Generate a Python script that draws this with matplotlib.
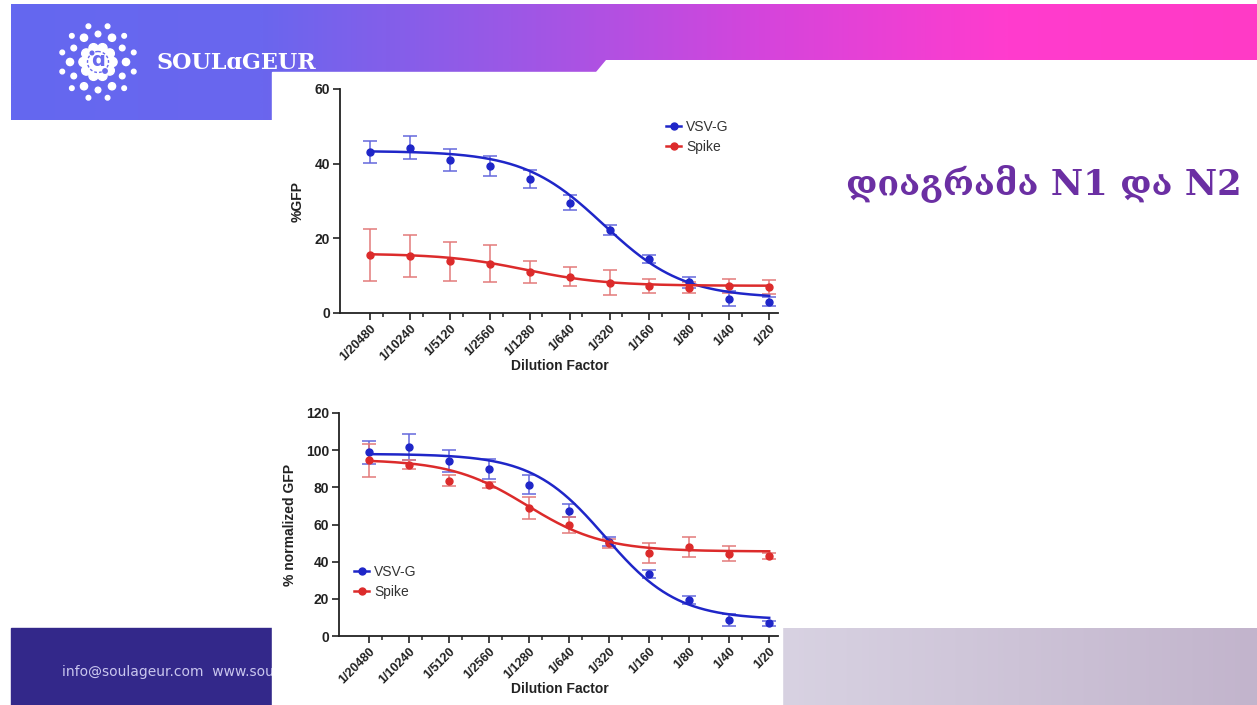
import numpy as np
import matplotlib
matplotlib.use('Agg')
import matplotlib.pyplot as plt
from matplotlib.colors import LinearSegmentedColormap
from matplotlib.patches import Polygon, Rectangle, Circle
from matplotlib.lines import Line2D

W, H = 1257, 705

DILUTIONS = ['1/20480', '1/10240', '1/5120', '1/2560', '1/1280', '1/640',
             '1/320', '1/160', '1/80', '1/40', '1/20']
SERIES = ['VSV-G', 'Spike']

# chart N1: %GFP
GFP_VSVG = [43.2, 44.3, 41.0, 39.3, 35.8, 29.5, 22.2, 14.4, 8.2, 3.8, 3.0]
GFP_VSVG_ERR = [3.0, 3.0, 2.9, 2.7, 2.4, 2.0, 1.4, 1.1, 1.5, 2.0, 1.2]
GFP_SPIKE = [15.6, 15.2, 13.9, 13.2, 11.0, 9.7, 8.1, 7.2, 6.8, 7.2, 7.0]
GFP_SPIKE_ERR = [6.9, 5.6, 5.2, 5.0, 3.0, 2.6, 3.4, 1.8, 1.5, 1.9, 1.9]
# fitted dose-response curves: top, bottom, midpoint (dilution index), slope
GFP_VSVG_FIT = [43.4, 4.0, 5.85, 1.0]
GFP_SPIKE_FIT = [15.9, 7.3, 3.9, 1.0]

# chart N2: % normalized GFP
NORM_VSVG = [98.8, 101.5, 94.0, 89.8, 81.4, 67.4, 50.8, 33.4, 19.4, 8.6, 6.8]
NORM_VSVG_ERR = [6.0, 7.0, 6.0, 5.4, 5.0, 3.5, 2.5, 2.0, 2.0, 3.0, 1.4]
NORM_SPIKE = [94.5, 92.2, 83.5, 81.4, 68.8, 59.8, 49.9, 44.9, 48.1, 44.2, 43.1]
NORM_SPIKE_ERR = [9.0, 2.5, 3.0, 1.6, 6.0, 4.5, 2.3, 5.4, 5.4, 4.0, 1.8]
NORM_VSVG_FIT = [98.0, 8.8, 5.9, 1.1]
NORM_SPIKE_FIT = [95.0, 45.5, 3.95, 1.05]

TITLE = 'დიაგრამა N1 და N2'

BLUE, BLUE_ERR = '#1f26c8', '#6468dc'
RED, RED_ERR = '#dc2b2b', '#e37a7a'
FONT = 'Liberation Sans'


def dose_response(x, top, bottom, mid, slope):
    return bottom + (top - bottom) / (1 + np.exp(slope * (x - mid)))


def px_box(left, top, right, bottom):
    """pixel box -> figure fraction [l, b, w, h]"""
    return [left / W, 1 - bottom / H, (right - left) / W, (bottom - top) / H]


def draw_background(fig):
    ax = fig.add_axes([0, 0, 1, 1])
    ax.set_xlim(0, W)
    ax.set_ylim(H, 0)
    ax.axis('off')

    # top band with gradient
    cmap = LinearSegmentedColormap.from_list(
        'band', ['#6468f0', '#6a66ee', '#9b58e6', '#d445dc', '#ff3cce', '#ff3ac6'])
    grad = np.linspace(0, 1, 512).reshape(1, -1)
    img = ax.imshow(grad, cmap=cmap, extent=(11, W, 120, 4), aspect='auto', zorder=1)
    band = Polygon([(11, 4), (W, 4), (W, 60), (606, 60), (596, 72), (272, 72),
                    (272, 120), (11, 120)], closed=True, transform=ax.transData)
    img.set_clip_path(band)

    # footer blocks
    ax.add_patch(Rectangle((11, 628), 261, 77, color='#33288a', zorder=1))
    ax.imshow(grad, cmap=LinearSegmentedColormap.from_list(
        'foot', ['#d8d2e2', '#c2b4cc']), extent=(782, W, 705, 628), aspect='auto', zorder=1)
    ax.text(62, 672, 'info@soulageur.com  www.soulageur.com', color='#c9c6ee',
            fontsize=10, family='DejaVu Sans', va='center', zorder=2)

    # logo
    cx, cy = 98, 62
    for ang, s in zip(np.linspace(0, 2 * np.pi, 12, endpoint=False), [3.6, 2.8] * 6):
        ax.add_patch(Circle((cx + 28 * np.cos(ang), cy + 28 * np.sin(ang)), s,
                            color='white', zorder=3))
    for ang in np.linspace(np.pi / 12, 2 * np.pi + np.pi / 12, 12, endpoint=False):
        ax.add_patch(Circle((cx + 37 * np.cos(ang), cy + 37 * np.sin(ang)), 2.3,
                            color='white', zorder=3))
    ax.add_patch(Circle((cx, cy), 15, color='white', zorder=3))
    for ang in np.linspace(0, 2 * np.pi, 10, endpoint=False):
        ax.add_patch(Circle((cx + 14.5 * np.cos(ang), cy + 14.5 * np.sin(ang)), 4.6,
                            color='white', zorder=3))
    ax.add_patch(Circle((cx, cy), 10.5, fill=False, ec='#6a6aee', lw=1, ls=(0, (2, 1.5)), zorder=4))
    ax.text(cx, cy - 1, 'ɑ', color='#6a6aee', fontsize=14, fontweight='bold',
            ha='center', va='center', family='DejaVu Sans', zorder=4)
    ax.add_patch(Circle((cx + 7, cy + 9), 2.2, color='#6a6aee', zorder=4))
    ax.add_patch(Circle((cx - 6, cy - 9), 1.8, color='#6a6aee', zorder=4))
    ax.text(157, 63, 'SOULɑGEUR', color='white', fontsize=16, fontweight='bold',
            family='DejaVu Serif', va='center', ha='left', zorder=3)

    # pasted chart picture area
    ax.add_patch(Rectangle((272, 72), 510, 633, color='white', zorder=5))

    ax.text(1044, 183, TITLE, color='#6b2fa3', fontsize=25.5, fontweight='bold',
            family=['DejaVu Serif', 'DejaVu Sans'], ha='center', va='center', zorder=6)


def draw_chart(ax, vsvg, vsvg_err, spike, spike_err, vsvg_fit, spike_fit,
               ymax, ystep, ylabel, ylab_x, legend_anchor):
    x = np.arange(len(DILUTIONS))
    xs = np.linspace(0, len(DILUTIONS) - 1, 400)
    for vals, err, fit, c, ce in [(vsvg, vsvg_err, vsvg_fit, BLUE, BLUE_ERR),
                                  (spike, spike_err, spike_fit, RED, RED_ERR)]:
        ax.errorbar(x, vals, yerr=err, fmt='o', ms=5, color=c, ecolor=ce,
                    elinewidth=1.1, capsize=5, capthick=1.1, zorder=3)
        ax.plot(xs, dose_response(xs, *fit), color=c, lw=1.8, zorder=4)

    ax.set_facecolor('none')
    ax.set_xlim(-0.75, 10.22)
    ax.set_ylim(0, ymax)
    for s in ['top', 'right']:
        ax.spines[s].set_visible(False)
    for s in ['left', 'bottom']:
        ax.spines[s].set_linewidth(1.3)
        ax.spines[s].set_color('#222222')

    ax.set_xticks(x)
    ax.set_xticks(x[:-1] + 0.32, minor=True)
    ax.set_xticklabels(DILUTIONS, rotation=45, ha='right', rotation_mode='anchor',
                       fontsize=9, fontweight='bold', family=FONT, color='#222222')
    ax.set_yticks(np.arange(0, ymax + 1, ystep))
    ax.set_yticklabels([str(v) for v in range(0, ymax + 1, ystep)],
                       fontsize=10, fontweight='bold', family=FONT, color='#222222')
    ax.tick_params(axis='both', which='major', length=5, width=1.2, color='#222222', pad=2)
    ax.tick_params(axis='x', which='minor', length=3, width=1.1, color='#222222')

    ax.text(0.502, -0.237, 'Dilution Factor', transform=ax.transAxes, ha='center',
            va='center', fontsize=10, fontweight='bold', family=FONT, color='#222222')
    ax.text(ylab_x, 0.5, ylabel, transform=ax.transAxes, ha='center', va='center',
            rotation=90, fontsize=10, fontweight='bold', family=FONT, color='#222222')

    handles = [Line2D([0], [0], color=BLUE, marker='o', ms=5, lw=1.8),
               Line2D([0], [0], color=RED, marker='o', ms=5, lw=1.8)]
    leg = ax.legend(handles, SERIES, loc='upper left', bbox_to_anchor=legend_anchor,
                    bbox_transform=ax.figure.transFigure, frameon=False, borderpad=0,
                    borderaxespad=0, handlelength=1.1, handletextpad=0.35,
                    labelspacing=0.45, prop={'family': FONT, 'size': 10})
    for t in leg.get_texts():
        t.set_color('#333333')


fig = plt.figure(figsize=(W / 100, H / 100), dpi=100)
fig.patch.set_facecolor('white')
draw_background(fig)

ax1 = fig.add_axes(px_box(340, 89, 778, 313))
ax1.set_zorder(10)
draw_chart(ax1, GFP_VSVG, GFP_VSVG_ERR, GFP_SPIKE, GFP_SPIKE_ERR,
           GFP_VSVG_FIT, GFP_SPIKE_FIT, 60, 20, '%GFP', -0.096,
           (666 / W, 1 - 120 / H))

ax2 = fig.add_axes(px_box(339, 413, 778, 636))
ax2.set_zorder(10)
draw_chart(ax2, NORM_VSVG, NORM_VSVG_ERR, NORM_SPIKE, NORM_SPIKE_ERR,
           NORM_VSVG_FIT, NORM_SPIKE_FIT, 120, 20, '% normalized GFP', -0.112,
           (354 / W, 1 - 565 / H))

fig.savefig('out.png', dpi=100, facecolor='white')
